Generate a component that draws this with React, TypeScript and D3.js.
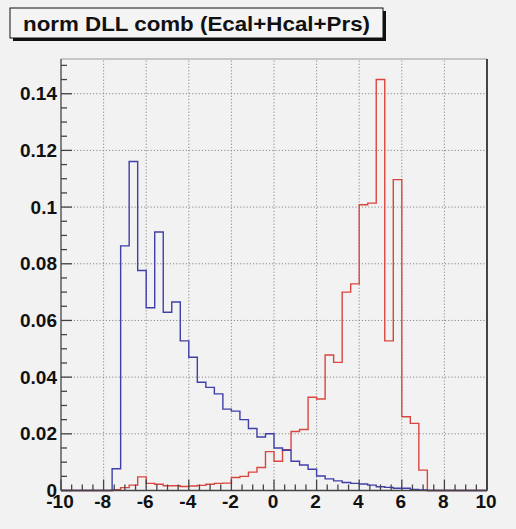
import React from "react";
import * as d3 from "d3";

// 50 bins of width 0.4 over [-10, 10]
const binEdges = d3.range(51).map((i) => -10 + i * 0.4);

// normalised DLL distribution, blue sample
const blueCounts = [
  0, 0, 0, 0, 0, 0, 0.0077, 0.0863, 0.1161, 0.0776,
  0.0645, 0.0912, 0.0629, 0.0665, 0.0528, 0.047, 0.0382, 0.0364, 0.0341, 0.0287,
  0.028, 0.025, 0.0219, 0.0189, 0.02, 0.015, 0.0142, 0.0103, 0.009, 0.0075,
  0.0051, 0.0041, 0.0034, 0.0028, 0.0025, 0.0023, 0.0019, 0.0013, 0.0011, 0.0008,
  0.0008, 0.0004, 0.0002, 0, 0, 0, 0, 0, 0, 0,
];

// normalised DLL distribution, red sample
const redCounts = [
  0, 0, 0, 0, 0, 0, 0.0003, 0.001, 0.0019, 0.0048,
  0.0025, 0.0022, 0.0017, 0.0017, 0.0014, 0.0016, 0.0018, 0.0022, 0.0025, 0.0026,
  0.0046, 0.005, 0.0065, 0.0081, 0.0137, 0.0103, 0.0144, 0.0208, 0.0215, 0.0329,
  0.0323, 0.0478, 0.0452, 0.07, 0.0729, 0.1008, 0.1014, 0.145, 0.0528, 0.1097,
  0.026, 0.0237, 0.0072, 0, 0, 0, 0, 0, 0, 0,
];

const xMajorTicks = [-10, -8, -6, -4, -2, 0, 2, 4, 6, 8, 10];
const xTickLabels = ["-10", "-8", "-6", "-4", "-2", "0", "2", "4", "6", "8", "10"];
const yMajorTicks = [0, 0.02, 0.04, 0.06, 0.08, 0.1, 0.12, 0.14];
const yTickLabels = ["0", "0.02", "0.04", "0.06", "0.08", "0.1", "0.12", "0.14"];

const titleText = "norm DLL comb (Ecal+Hcal+Prs)";

const W = 516;
const H = 529;
const FONT = "'Liberation Sans', Arial, Helvetica, sans-serif";

export default function App() {
  const maxVal = Math.max(d3.max(blueCounts)!, d3.max(redCounts)!);
  const x = d3.scaleLinear().domain([-10, 10]).range([61, 487]);
  const y = d3.scaleLinear().domain([0, maxVal * 1.05]).range([490.5, 59]);

  const stepPath = (counts: number[]) => {
    const pts: [number, number][] = [[x(binEdges[0]), y(0)]];
    counts.forEach((v, i) => {
      pts.push([x(binEdges[i]), y(v)]);
      pts.push([x(binEdges[i + 1]), y(v)]);
    });
    pts.push([x(binEdges[binEdges.length - 1]), y(0)]);
    return d3.line()(pts) || "";
  };

  const [x0, x1] = x.range();
  const [yb, yt] = y.range();

  const xMinor = d3.range(-10, 10.001, 0.5).filter((v) => !xMajorTicks.includes(Math.round(v * 10) / 10));
  const yMinor = d3.range(0, maxVal * 1.05, 0.005).filter((v) => Math.abs(Math.round(v / 0.02) * 0.02 - v) > 1e-6);

  return (
    <svg
      width={W}
      height={H}
      style={{ position: "absolute", left: 0, top: 0, background: "#f2f2f2" }}
      fontFamily={FONT}
    >
      <rect x={0} y={0} width={W} height={H} fill="#f2f2f2" />

      {/* grid */}
      <g stroke="#8a8a8a" strokeWidth={1} strokeDasharray="1.2,2">
        {xMajorTicks.slice(1, -1).map((t) => (
          <line key={"gx" + t} x1={x(t)} x2={x(t)} y1={yb} y2={yt} />
        ))}
        {yMajorTicks.slice(1).map((t) => (
          <line key={"gy" + t} x1={x0} x2={x1} y1={y(t)} y2={y(t)} />
        ))}
      </g>

      {/* histograms */}
      <path d={stepPath(redCounts)} fill="none" stroke="#d9463f" strokeWidth={1.4} />
      <path d={stepPath(blueCounts)} fill="none" stroke="#3f3fa8" strokeWidth={1.4} />

      {/* frame */}
      <line x1={x0} x2={x1} y1={yt} y2={yt} stroke="#9a9a9a" strokeWidth={1} />
      <line x1={x1} x2={x1} y1={yt} y2={yb} stroke="#444" strokeWidth={2} />

      {/* x axis */}
      <g stroke="#444" strokeWidth={1.3}>
        <line x1={x0} x2={x1} y1={yb} y2={yb} />
        {xMajorTicks.map((t) => (
          <line key={"xt" + t} x1={x(t)} x2={x(t)} y1={yb} y2={yb - 11} />
        ))}
        {xMinor.map((t) => (
          <line key={"xm" + t} x1={x(t)} x2={x(t)} y1={yb} y2={yb - 6} />
        ))}
      </g>
      <g fontSize={19} fontWeight="bold" fill="#111" textAnchor="middle">
        {xMajorTicks.map((t, i) => (
          <text key={"xl" + t} x={x(t) - 1} y={508}>
            {xTickLabels[i]}
          </text>
        ))}
      </g>

      {/* y axis */}
      <g fontSize={19} fontWeight="bold" fill="#111" textAnchor="end">
        {yMajorTicks.map((t, i) => (
          <text key={"yl" + t} x={57} y={y(t) + 6.5}>
            {yTickLabels[i]}
          </text>
        ))}
      </g>
      <g stroke="#444" strokeWidth={1.3}>
        <line x1={x0} x2={x0} y1={yb} y2={yt} />
        {yMajorTicks.map((t) => (
          <line key={"yt" + t} x1={x0} x2={x0 + 11} y1={y(t)} y2={y(t)} />
        ))}
        {yMinor.map((t) => (
          <line key={"ym" + t} x1={x0} x2={x0 + 6} y1={y(t)} y2={y(t)} />
        ))}
      </g>

      {/* title box with drop shadow */}
      <rect x={13} y={11} width={373} height={30} fill="#111" />
      <rect x={10} y={8} width={373} height={30} fill="#f4f4f4" stroke="#111" strokeWidth={1} />
      <text
        x={23}
        y={30.5}
        fontSize={21}
        fontWeight="bold"
        fill="#111"
        textLength={347}
        lengthAdjust="spacingAndGlyphs"
      >
        {titleText}
      </text>
    </svg>
  );
}
